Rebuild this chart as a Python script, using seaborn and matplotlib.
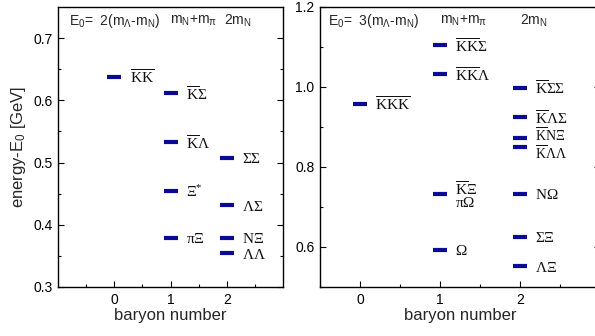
import matplotlib
matplotlib.use("Agg")
import matplotlib.pyplot as plt
import seaborn as sns
import pandas as pd

# ---- data ----
left_baryon = [0, 1, 1, 1, 1, 2, 2, 2, 2]
left_energy = [0.638, 0.611, 0.533, 0.455, 0.379, 0.508, 0.431, 0.379, 0.354]
left_labels = [r'$\overline{\mathrm{K}}\overline{\mathrm{K}}$',
               r'$\overline{\mathrm{K}}\mathrm{\Sigma}$',
               r'$\overline{\mathrm{K}}\mathrm{\Lambda}$',
               r'$\mathrm{\Xi}^{*}$',
               r'$\mathrm{\pi\Xi}$',
               r'$\mathrm{\Sigma\Sigma}$',
               r'$\mathrm{\Lambda\Sigma}$',
               r'$\mathrm{N\Xi}$',
               r'$\mathrm{\Lambda\Lambda}$']

right_baryon = [0, 1, 1, 1, 1, 2, 2, 2, 2, 2, 2, 2]
right_energy = [0.958, 1.105, 1.032, 0.733, 0.593, 0.998, 0.925, 0.872, 0.851, 0.733, 0.626, 0.552]
right_labels = [r'$\overline{\mathrm{K}}\overline{\mathrm{K}}\overline{\mathrm{K}}$',
                r'$\overline{\mathrm{K}}\overline{\mathrm{K}}\mathrm{\Sigma}$',
                r'$\overline{\mathrm{K}}\overline{\mathrm{K}}\mathrm{\Lambda}$',
                r'$\overline{\mathrm{K}}\mathrm{\Xi}$' + '\n' + r'$\mathrm{\pi\Omega}$',
                r'$\mathrm{\Omega}$',
                r'$\overline{\mathrm{K}}\mathrm{\Sigma\Sigma}$',
                r'$\overline{\mathrm{K}}\mathrm{\Lambda\Sigma}$',
                r'$\overline{\mathrm{K}}\mathrm{N\Xi}$',
                r'$\overline{\mathrm{K}}\mathrm{\Lambda\Lambda}$',
                r'$\mathrm{N\Omega}$',
                r'$\mathrm{\Sigma\Xi}$',
                r'$\mathrm{\Lambda\Xi}$']
# small vertical nudges (points) for crowded labels
right_label_dy = [0, 0, 0, 0, 0, 0, 0, 3, -4, 0, 0, 0]
right_label_fs = [11, 11, 11, 11, 11, 11, 11, 10, 10, 11, 11, 11]

left_header = [r'E$_\mathsf{0}$=  2(m$_\mathsf{\Lambda}$-m$_\mathsf{N}$)', r'm$_\mathsf{N}$+m$_\mathsf{\pi}$', r'2m$_\mathsf{N}$']
right_header = [r'E$_\mathsf{0}$=  3(m$_\mathsf{\Lambda}$-m$_\mathsf{N}$)', r'm$_\mathsf{N}$+m$_\mathsf{\pi}$', r'2m$_\mathsf{N}$']

sns.set_theme(style="ticks")
plt.rcParams['font.family'] = ['Liberation Sans', 'DejaVu Sans']
plt.rcParams['mathtext.fontset'] = 'custom'
plt.rcParams['mathtext.rm'] = 'Liberation Serif'
plt.rcParams['mathtext.it'] = 'Liberation Serif:italic'
plt.rcParams['mathtext.sf'] = 'Liberation Sans'
plt.rcParams['xtick.direction'] = 'in'
plt.rcParams['ytick.direction'] = 'in'

BAR = '#0a0a96'

fig = plt.figure(figsize=(5.95, 3.36), dpi=100)
ax1 = fig.add_axes([58/595, 49/336, 225/595, 280/336])
ax2 = fig.add_axes([320/595, 49/336, 280/595, 280/336])


def draw(ax, xs, ys, labels, dys, fss, xlim, ylim, yticks, yminor, header, header_x):
    df = pd.DataFrame({'baryon': xs, 'energy': ys})
    sns.scatterplot(data=df, x='baryon', y='energy', ax=ax, marker='_',
                    s=110, linewidth=3.0, color=BAR, edgecolor=BAR, legend=False)
    for x, y, lab, dy, fs in zip(xs, ys, labels, dys, fss):
        ax.annotate(lab, (x, y), xytext=(11, -1 + dy), textcoords='offset points',
                    ha='left', va='center', fontsize=fs, color='#111111',
                    linespacing=0.8)
    ax.set_xlim(*xlim)
    ax.set_ylim(*ylim)
    ax.set_xticks([0, 1, 2])
    ax.set_xticks([-0.5, 0.5, 1.5, 2.5], minor=True)
    ax.set_yticks(yticks)
    ax.set_yticks(yminor, minor=True)
    ax.set_yticklabels([f'{t:.1f}' for t in yticks])
    ax.set_xlabel('baryon number', fontsize=12, labelpad=1)
    ax.set_ylabel('')
    ax.tick_params(which='both', direction='in', top=False, right=True,
                   bottom=True, left=True,
                   labelsize=10, colors='black', pad=4)
    ax.tick_params(which='major', length=4, width=0.8)
    ax.tick_params(which='minor', length=2.5, width=0.8)
    for sp in ax.spines.values():
        sp.set_visible(True)
        sp.set_color('black')
        sp.set_linewidth(1.0)
    for txt, hx in zip(header, header_x):
        ax.text(hx, 0.95, txt, transform=ax.get_xaxis_transform(),
                ha='left', va='center', fontsize=10)


draw(ax1, left_baryon, left_energy, left_labels, [0]*len(left_labels),
     [11]*len(left_labels),
     (-1, 3), (0.3, 0.75), [0.3, 0.4, 0.5, 0.6, 0.7],
     [0.35, 0.45, 0.55, 0.65], left_header, [-0.8, 1.0, 1.95])
draw(ax2, right_baryon, right_energy, right_labels, right_label_dy, right_label_fs,
     (-0.5, 3.0), (0.5, 1.2), [0.6, 0.8, 1.0, 1.2],
     [0.5, 0.7, 0.9, 1.1], right_header, [-0.4, 1.0, 2.0])

ax1.set_ylabel('energy-E$_\\mathsf{0}$ [GeV]', fontsize=12, labelpad=4)

fig.savefig('out.png', dpi=100)
